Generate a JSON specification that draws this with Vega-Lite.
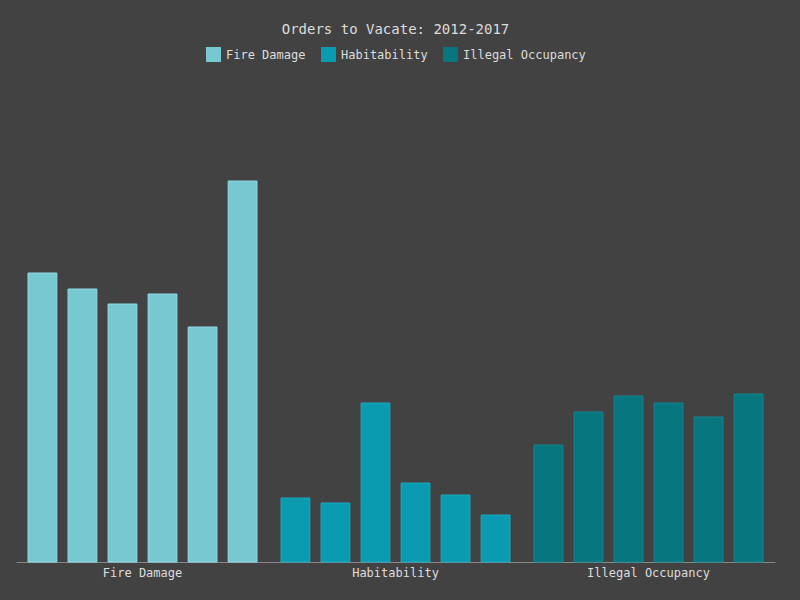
{
  "$schema": "https://vega.github.io/schema/vega-lite/v6.json",
  "autosize": "none",
  "width": 759,
  "height": 482,
  "padding": {"left": 16, "top": 80, "right": 25, "bottom": 38},
  "background": "#424242",
  "title": {
    "text": "Orders to Vacate: 2012-2017",
    "font": "DejaVu Sans Mono",
    "fontSize": 14,
    "fontWeight": "normal",
    "color": "#dddddd",
    "anchor": "middle",
    "offset": 10
  },
  "data": {
    "values": [
      {"type": "Fire Damage", "year": "2012", "v": 289},
      {"type": "Fire Damage", "year": "2013", "v": 273},
      {"type": "Fire Damage", "year": "2014", "v": 258},
      {"type": "Fire Damage", "year": "2015", "v": 268},
      {"type": "Fire Damage", "year": "2016", "v": 235},
      {"type": "Fire Damage", "year": "2017", "v": 381},
      {"type": "Habitability", "year": "2012", "v": 64},
      {"type": "Habitability", "year": "2013", "v": 59},
      {"type": "Habitability", "year": "2014", "v": 159},
      {"type": "Habitability", "year": "2015", "v": 79},
      {"type": "Habitability", "year": "2016", "v": 67},
      {"type": "Habitability", "year": "2017", "v": 47},
      {"type": "Illegal Occupancy", "year": "2012", "v": 117},
      {"type": "Illegal Occupancy", "year": "2013", "v": 150},
      {"type": "Illegal Occupancy", "year": "2014", "v": 166},
      {"type": "Illegal Occupancy", "year": "2015", "v": 159},
      {"type": "Illegal Occupancy", "year": "2016", "v": 145},
      {"type": "Illegal Occupancy", "year": "2017", "v": 168}
    ]
  },
  "mark": {"type": "bar", "strokeWidth": 1},
  "encoding": {
    "x": {
      "field": "type",
      "type": "nominal",
      "scale": {"paddingInner": 0, "paddingOuter": 0},
      "axis": {
        "title": null,
        "labelAngle": 0,
        "ticks": false,
        "domainColor": "#888888",
        "labelColor": "#dddddd",
        "labelFont": "DejaVu Sans Mono",
        "labelFontSize": 12,
        "labelPadding": 5
      }
    },
    "xOffset": {
      "field": "year",
      "type": "nominal",
      "scale": {"paddingInner": 0.28, "paddingOuter": 0.3}
    },
    "y": {
      "field": "v",
      "type": "quantitative",
      "scale": {"domain": [0, 482]},
      "axis": null
    },
    "color": {
      "field": "type",
      "type": "nominal",
      "scale": {
        "domain": ["Fire Damage", "Habitability", "Illegal Occupancy"],
        "range": ["#78c8d2", "#0a9bb0", "#08767f"]
      },
      "legend": {
        "orient": "top",
        "direction": "horizontal",
        "title": null,
        "symbolType": "square",
        "symbolSize": 225,
        "symbolStrokeWidth": 0,
        "labelFont": "DejaVu Sans Mono",
        "labelFontSize": 12,
        "labelColor": "#dddddd",
        "labelOffset": 5,
        "columnPadding": 15,
        "offset": 18
      }
    },
    "stroke": {
      "field": "type",
      "type": "nominal",
      "scale": {
        "domain": ["Fire Damage", "Habitability", "Illegal Occupancy"],
        "range": ["#8fdde6", "#18aac0", "#10868f"]
      },
      "legend": null
    }
  },
  "config": {
    "view": {"stroke": null},
    "legend": {"layout": {"top": {"anchor": "middle"}}}
  }
}
